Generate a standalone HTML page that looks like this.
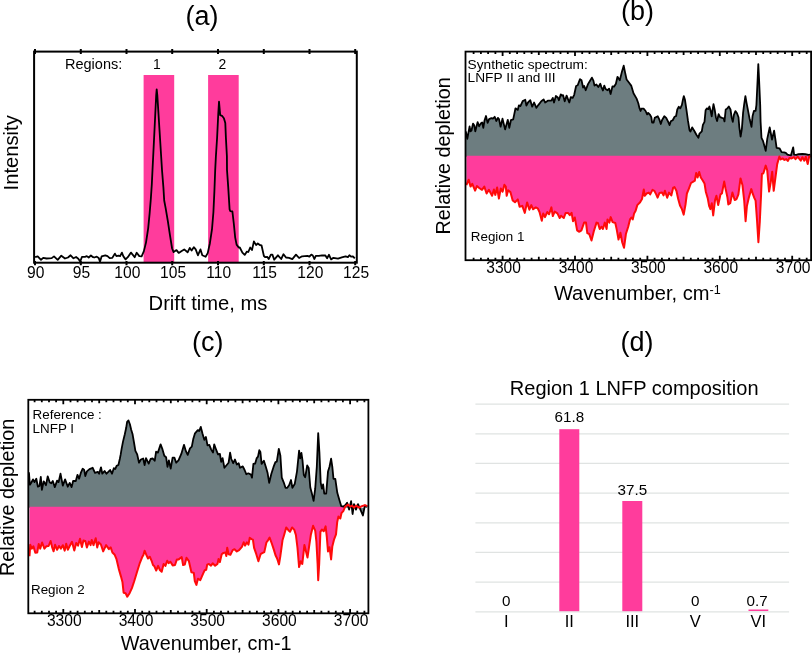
<!DOCTYPE html>
<html><head><meta charset="utf-8"><style>
html,body{margin:0;padding:0;background:#fff;overflow:hidden;width:812px;height:654px;}
svg{display:block;font-family:"Liberation Sans", sans-serif;will-change:transform;}
text{fill:#000;}
</style></head><body>
<svg width="812" height="654" viewBox="0 0 812 654">
<text x="202.0" y="24.9" font-size="27" text-anchor="middle" >(a)</text>
<text x="637.5" y="20.0" font-size="27" text-anchor="middle" >(b)</text>
<text x="207.7" y="351.3" font-size="27" text-anchor="middle" >(c)</text>
<text x="637.0" y="351.3" font-size="27" text-anchor="middle" >(d)</text>
<rect x="143.6" y="75" width="30.6" height="187.7" fill="#FF3C9C"/>
<rect x="208.1" y="75" width="30.6" height="187.7" fill="#FF3C9C"/>
<polyline points="35.1,257.2 37.7,256.4 41.0,259.8 43.2,257.9 46.6,258.5 51.7,258.1 54.0,256.4 57.7,259.8 61.3,255.7 65.0,258.5 68.0,257.5 70.6,255.3 73.5,258.3 76.1,257.0 78.3,258.7 80.2,261.6 82.0,256.8 85.0,256.8 86.8,256.1 88.7,257.5 90.9,255.5 93.1,257.2 94.2,257.5 96.8,256.7 98.7,257.9 100.0,261.8 101.6,256.4 105.3,255.3 107.5,256.1 109.7,258.1 112.3,257.9 114.9,253.6 116.4,256.1 118.6,255.7 120.1,256.1 121.9,252.6 123.4,256.4 125.6,259.4 127.8,257.2 131.0,252.6 134.7,257.2 136.7,252.7 139.3,256.1 141.6,256.4 143.8,251.4 146.0,242.6 148.2,228.1 149.6,213.6 150.8,199.1 151.8,184.5 152.5,170.0 154.5,130.0 156.2,95.0 156.7,89.4 157.3,95.0 159.5,130.0 162.0,170.0 163.4,187.4 164.2,200.5 165.6,207.8 167.8,220.9 170.0,235.4 172.1,248.5 173.6,252.1 176.5,250.1 178.7,252.9 181.7,250.9 184.2,249.4 187.6,252.3 189.8,247.9 191.6,250.5 193.8,247.2 195.7,249.4 197.9,255.3 200.5,249.4 202.3,255.3 205.6,256.8 207.7,253.1 209.9,243.2 212.0,229.2 213.4,212.3 214.4,191.1 215.2,170.0 215.9,156.2 217.1,137.8 218.3,113.3 219.0,101.7 220.2,115.2 222.0,115.8 223.9,118.2 225.3,123.1 225.9,137.8 226.9,156.2 227.0,170.0 228.2,186.9 229.6,209.4 230.3,211.1 232.4,211.5 233.8,223.5 235.2,237.6 236.6,244.6 238.7,247.5 239.8,247.5 242.4,252.7 244.7,254.9 246.9,251.6 248.3,252.0 250.2,247.5 252.0,250.1 253.9,241.4 256.1,245.1 257.8,243.5 259.8,245.0 261.5,245.3 263.9,256.0 265.3,257.2 267.2,256.8 268.7,259.1 270.9,254.6 272.4,254.6 274.2,259.7 277.9,255.3 281.2,259.0 283.5,254.2 286.0,257.5 289.0,257.9 292.3,259.1 296.0,254.6 299.1,258.0 302.1,256.3 307.5,255.9 309.4,256.7 311.3,254.6 312.8,255.5 314.3,259.0 315.8,255.9 318.9,255.9 322.0,255.4 325.4,255.5 327.1,258.2 329.0,254.8 331.1,259.4 333.4,257.8 338.0,258.6 341.8,257.4 345.6,256.3 347.9,257.1 349.4,255.2 351.0,256.7 352.9,256.3 354.8,258.4" fill="none" stroke="#000" stroke-width="1.8" stroke-linejoin="round"/>
<rect x="34.1" y="51.6" width="322.7" height="211.1" fill="none" stroke="#000" stroke-width="2"/>
<path d="M35.0,49.0V53.9M35.0,260.9V265.2M80.8,49.0V53.9M80.8,260.9V265.2M126.5,49.0V53.9M126.5,260.9V265.2M172.2,49.0V53.9M172.2,260.9V265.2M218.0,49.0V53.9M218.0,260.9V265.2M263.8,49.0V53.9M263.8,260.9V265.2M309.5,49.0V53.9M309.5,260.9V265.2M355.2,49.0V53.9M355.2,260.9V265.2" stroke="#000" stroke-width="2"/>
<text x="35.8" y="278.2" font-size="15.6" text-anchor="middle" >90</text>
<text x="81.5" y="278.2" font-size="15.6" text-anchor="middle" >95</text>
<text x="127.3" y="278.2" font-size="15.6" text-anchor="middle" >100</text>
<text x="173.1" y="278.2" font-size="15.6" text-anchor="middle" >105</text>
<text x="218.8" y="278.2" font-size="15.6" text-anchor="middle" >110</text>
<text x="264.6" y="278.2" font-size="15.6" text-anchor="middle" >115</text>
<text x="310.3" y="278.2" font-size="15.6" text-anchor="middle" >120</text>
<text x="356.1" y="278.2" font-size="15.6" text-anchor="middle" >125</text>
<text x="65.0" y="68.8" font-size="14.5" text-anchor="start" >Regions:</text>
<text x="156.9" y="68.8" font-size="13.9" text-anchor="middle" >1</text>
<text x="222.3" y="68.8" font-size="13.9" text-anchor="middle" >2</text>
<text x="208.0" y="309.5" font-size="20.2" text-anchor="middle" >Drift time, ms</text>
<text transform="translate(18.0,152.8) rotate(-90)" font-size="20.2" text-anchor="middle">Intensity</text>
<polygon points="465.8,156.8 465.8,131.3 467.3,138.9 468.4,132.8 469.6,126.3 470.5,131.3 471.5,130.5 473.0,123.6 474.2,125.2 475.3,131.3 477.6,122.1 479.1,126.3 480.7,123.6 482.2,122.5 483.3,127.8 484.5,120.6 486.0,116.0 487.6,122.9 489.1,119.1 491.4,118.1 492.9,118.7 494.7,116.8 496.3,121.0 497.9,117.9 499.0,119.1 500.6,126.7 502.5,118.7 505.1,129.4 507.8,119.8 509.3,127.8 510.9,120.2 513.2,119.4 515.5,108.3 517.8,109.9 518.9,105.3 520.4,106.1 522.7,101.1 525.3,99.8 526.4,105.5 528.0,102.5 530.3,100.2 532.2,106.7 534.1,102.5 536.4,107.8 538.3,105.1 541.3,101.3 543.6,99.4 545.2,102.5 548.2,100.6 551.3,100.6 552.8,97.9 554.0,102.5 555.9,96.0 557.8,97.5 558.9,100.2 560.8,94.4 562.0,95.6 563.1,95.2 564.7,101.3 566.6,95.6 569.3,102.5 570.8,97.1 572.7,97.9 574.2,94.8 576.1,86.0 577.7,85.3 580.0,79.1 581.5,80.3 583.1,87.5 584.2,86.0 585.7,90.2 588.0,84.1 589.9,81.0 591.9,77.6 593.4,80.6 594.5,85.6 596.4,84.4 598.3,87.1 600.3,83.7 601.4,87.1 602.9,90.5 604.3,85.6 605.6,89.0 607.5,90.2 609.1,88.6 610.6,94.0 612.5,86.3 614.0,86.7 615.9,83.7 617.5,76.8 619.8,80.2 621.7,72.6 623.7,65.7 625.1,72.6 626.6,79.5 628.9,82.5 631.2,85.6 633.5,93.2 636.6,98.6 638.3,103.3 639.4,107.9 640.6,111.0 641.4,108.7 643.6,108.7 645.6,111.0 647.1,114.4 648.2,112.9 650.1,114.8 651.3,117.1 652.1,122.5 653.6,122.5 654.7,117.9 657.8,116.3 659.3,119.4 660.8,124.0 662.0,120.2 664.3,116.3 666.2,117.9 668.1,121.7 669.6,125.1 670.8,121.3 672.7,120.2 674.6,116.7 676.1,116.0 677.3,109.5 678.8,106.8 680.3,108.3 681.9,104.9 682.8,100.3 683.8,96.1 684.9,99.5 686.5,110.2 688.0,120.9 689.5,130.1 690.4,131.6 692.2,127.4 694.5,131.3 696.4,134.8 698.4,137.8 699.5,133.6 701.8,131.3 702.9,124.8 704.5,121.8 705.6,110.3 706.8,108.4 708.3,109.1 709.4,106.5 710.6,110.7 711.7,116.4 712.5,110.3 713.5,104.2 714.8,110.3 715.9,117.2 717.1,121.0 718.6,114.1 720.1,117.2 722.1,117.9 723.6,118.3 724.5,121.4 725.7,109.5 727.0,108.8 728.8,106.5 730.5,109.5 731.6,117.2 732.8,121.8 733.9,114.9 735.4,111.1 737.0,113.3 738.5,117.2 739.3,127.1 740.6,136.7 741.9,128.6 743.1,112.6 744.1,104.9 745.4,96.1 746.5,102.6 748.0,110.3 749.7,119.3 751.5,126.9 752.6,115.9 753.9,110.9 755.6,110.9 756.4,105.0 757.6,80.0 758.3,64.1 759.1,80.0 760.2,105.0 760.6,121.8 761.5,137.8 763.1,141.2 765.7,150.8 767.3,138.6 769.7,127.5 772.0,139.5 774.1,130.7 775.3,138.6 776.6,147.9 779.5,148.3 781.6,152.1 784.0,152.3 785.8,152.9 787.5,154.6 790.9,155.5 793.2,147.3 794.1,154.6 796.3,154.9 798.5,154.2 802.4,153.8 805.4,154.2 808.5,154.9 810.5,154.6 810.5,156.8" fill="#6D7D80"/>
<polygon points="466.4,155.8 466.4,185.2 468.7,179.7 470.5,186.6 472.3,183.9 475.1,190.7 476.9,186.1 479.2,188.0 482.0,189.8 484.3,186.6 486.6,193.5 488.9,189.8 492.1,195.8 493.9,189.4 495.3,194.9 497.1,187.5 498.9,198.5 500.8,188.4 502.6,191.7 504.4,184.8 505.8,186.6 506.7,195.8 508.1,190.3 510.4,192.1 512.7,200.4 515.0,202.2 517.8,199.4 519.6,206.8 522.3,205.9 524.8,212.9 527.1,202.4 529.4,209.7 531.3,205.1 533.1,209.3 535.8,207.4 537.7,208.3 539.5,212.0 541.8,220.7 543.2,213.4 545.0,217.1 547.3,212.0 549.1,214.3 551.4,207.4 552.8,216.1 554.7,211.6 557.4,213.4 559.7,218.0 561.0,215.7 563.8,218.0 565.7,212.9 568.0,212.9 569.8,215.2 571.6,212.9 573.0,221.2 574.8,217.5 577.1,230.4 579.0,231.7 580.0,231.3 581.4,230.4 584.1,222.6 586.0,222.6 587.3,233.1 589.2,234.0 591.5,240.5 593.8,231.3 596.5,222.6 597.9,223.0 599.7,229.0 601.6,226.7 602.9,229.0 604.8,222.6 606.6,229.0 607.5,219.4 609.4,222.6 610.7,217.1 612.6,222.1 615.3,223.0 616.7,229.4 618.5,239.5 620.4,232.7 622.2,242.3 624.0,247.8 625.9,234.0 628.2,226.7 630.0,219.4 631.4,217.5 632.8,219.4 634.1,213.4 635.5,211.1 637.3,205.1 640.1,202.2 642.0,199.0 643.8,189.4 644.7,195.8 646.6,193.5 648.8,192.6 650.2,194.4 652.5,189.9 654.3,190.8 656.2,194.4 657.6,197.7 659.4,193.1 662.1,192.6 663.5,195.4 664.9,190.8 667.2,197.7 669.0,192.6 671.3,195.4 673.2,187.6 674.5,187.1 676.4,190.8 678.2,199.0 680.0,205.5 681.9,209.1 683.7,214.6 685.5,204.5 686.9,193.5 688.8,188.9 691.0,183.0 693.3,181.6 694.8,180.7 696.2,172.9 697.6,177.5 699.2,172.0 700.8,177.5 702.6,180.2 704.5,183.4 705.8,191.7 707.7,198.1 709.1,205.9 710.4,209.1 711.8,203.2 713.2,215.5 715.0,200.4 716.4,195.8 718.2,205.0 720.5,194.4 721.9,193.5 724.2,181.6 725.6,188.9 727.4,197.2 728.3,204.5 730.2,203.2 732.4,192.6 734.7,200.0 736.6,199.0 738.4,194.4 740.5,178.4 742.5,185.3 744.2,200.6 745.6,221.2 746.9,206.1 748.8,197.8 751.3,189.1 752.9,194.2 754.3,197.8 755.6,200.6 757.0,219.9 758.4,242.3 759.8,221.7 761.1,194.2 761.9,174.0 763.4,173.3 765.7,165.6 767.2,170.2 769.1,191.6 770.7,182.4 772.2,171.7 773.7,190.8 775.2,179.4 777.2,164.1 778.3,160.3 779.4,156.5 780.6,159.5 782.5,158.4 784.4,159.9 786.3,159.1 787.8,161.0 789.4,158.0 791.7,158.4 794.0,157.2 795.5,159.1 797.8,156.8 800.8,160.7 802.4,157.2 804.3,160.7 805.8,156.8 807.7,164.1 809.2,156.5 810.5,157.0 810.5,155.8" fill="#FF3C9C"/>
<polyline points="465.8,131.3 467.3,138.9 468.4,132.8 469.6,126.3 470.5,131.3 471.5,130.5 473.0,123.6 474.2,125.2 475.3,131.3 477.6,122.1 479.1,126.3 480.7,123.6 482.2,122.5 483.3,127.8 484.5,120.6 486.0,116.0 487.6,122.9 489.1,119.1 491.4,118.1 492.9,118.7 494.7,116.8 496.3,121.0 497.9,117.9 499.0,119.1 500.6,126.7 502.5,118.7 505.1,129.4 507.8,119.8 509.3,127.8 510.9,120.2 513.2,119.4 515.5,108.3 517.8,109.9 518.9,105.3 520.4,106.1 522.7,101.1 525.3,99.8 526.4,105.5 528.0,102.5 530.3,100.2 532.2,106.7 534.1,102.5 536.4,107.8 538.3,105.1 541.3,101.3 543.6,99.4 545.2,102.5 548.2,100.6 551.3,100.6 552.8,97.9 554.0,102.5 555.9,96.0 557.8,97.5 558.9,100.2 560.8,94.4 562.0,95.6 563.1,95.2 564.7,101.3 566.6,95.6 569.3,102.5 570.8,97.1 572.7,97.9 574.2,94.8 576.1,86.0 577.7,85.3 580.0,79.1 581.5,80.3 583.1,87.5 584.2,86.0 585.7,90.2 588.0,84.1 589.9,81.0 591.9,77.6 593.4,80.6 594.5,85.6 596.4,84.4 598.3,87.1 600.3,83.7 601.4,87.1 602.9,90.5 604.3,85.6 605.6,89.0 607.5,90.2 609.1,88.6 610.6,94.0 612.5,86.3 614.0,86.7 615.9,83.7 617.5,76.8 619.8,80.2 621.7,72.6 623.7,65.7 625.1,72.6 626.6,79.5 628.9,82.5 631.2,85.6 633.5,93.2 636.6,98.6 638.3,103.3 639.4,107.9 640.6,111.0 641.4,108.7 643.6,108.7 645.6,111.0 647.1,114.4 648.2,112.9 650.1,114.8 651.3,117.1 652.1,122.5 653.6,122.5 654.7,117.9 657.8,116.3 659.3,119.4 660.8,124.0 662.0,120.2 664.3,116.3 666.2,117.9 668.1,121.7 669.6,125.1 670.8,121.3 672.7,120.2 674.6,116.7 676.1,116.0 677.3,109.5 678.8,106.8 680.3,108.3 681.9,104.9 682.8,100.3 683.8,96.1 684.9,99.5 686.5,110.2 688.0,120.9 689.5,130.1 690.4,131.6 692.2,127.4 694.5,131.3 696.4,134.8 698.4,137.8 699.5,133.6 701.8,131.3 702.9,124.8 704.5,121.8 705.6,110.3 706.8,108.4 708.3,109.1 709.4,106.5 710.6,110.7 711.7,116.4 712.5,110.3 713.5,104.2 714.8,110.3 715.9,117.2 717.1,121.0 718.6,114.1 720.1,117.2 722.1,117.9 723.6,118.3 724.5,121.4 725.7,109.5 727.0,108.8 728.8,106.5 730.5,109.5 731.6,117.2 732.8,121.8 733.9,114.9 735.4,111.1 737.0,113.3 738.5,117.2 739.3,127.1 740.6,136.7 741.9,128.6 743.1,112.6 744.1,104.9 745.4,96.1 746.5,102.6 748.0,110.3 749.7,119.3 751.5,126.9 752.6,115.9 753.9,110.9 755.6,110.9 756.4,105.0 757.6,80.0 758.3,64.1 759.1,80.0 760.2,105.0 760.6,121.8 761.5,137.8 763.1,141.2 765.7,150.8 767.3,138.6 769.7,127.5 772.0,139.5 774.1,130.7 775.3,138.6 776.6,147.9 779.5,148.3 781.6,152.1 784.0,152.3 785.8,152.9 787.5,154.6 790.9,155.5 793.2,147.3 794.1,154.6 796.3,154.9 798.5,154.2 802.4,153.8 805.4,154.2 808.5,154.9 810.5,154.6" fill="none" stroke="#000" stroke-width="1.8" stroke-linejoin="round"/>
<polyline points="466.4,185.2 468.7,179.7 470.5,186.6 472.3,183.9 475.1,190.7 476.9,186.1 479.2,188.0 482.0,189.8 484.3,186.6 486.6,193.5 488.9,189.8 492.1,195.8 493.9,189.4 495.3,194.9 497.1,187.5 498.9,198.5 500.8,188.4 502.6,191.7 504.4,184.8 505.8,186.6 506.7,195.8 508.1,190.3 510.4,192.1 512.7,200.4 515.0,202.2 517.8,199.4 519.6,206.8 522.3,205.9 524.8,212.9 527.1,202.4 529.4,209.7 531.3,205.1 533.1,209.3 535.8,207.4 537.7,208.3 539.5,212.0 541.8,220.7 543.2,213.4 545.0,217.1 547.3,212.0 549.1,214.3 551.4,207.4 552.8,216.1 554.7,211.6 557.4,213.4 559.7,218.0 561.0,215.7 563.8,218.0 565.7,212.9 568.0,212.9 569.8,215.2 571.6,212.9 573.0,221.2 574.8,217.5 577.1,230.4 579.0,231.7 580.0,231.3 581.4,230.4 584.1,222.6 586.0,222.6 587.3,233.1 589.2,234.0 591.5,240.5 593.8,231.3 596.5,222.6 597.9,223.0 599.7,229.0 601.6,226.7 602.9,229.0 604.8,222.6 606.6,229.0 607.5,219.4 609.4,222.6 610.7,217.1 612.6,222.1 615.3,223.0 616.7,229.4 618.5,239.5 620.4,232.7 622.2,242.3 624.0,247.8 625.9,234.0 628.2,226.7 630.0,219.4 631.4,217.5 632.8,219.4 634.1,213.4 635.5,211.1 637.3,205.1 640.1,202.2 642.0,199.0 643.8,189.4 644.7,195.8 646.6,193.5 648.8,192.6 650.2,194.4 652.5,189.9 654.3,190.8 656.2,194.4 657.6,197.7 659.4,193.1 662.1,192.6 663.5,195.4 664.9,190.8 667.2,197.7 669.0,192.6 671.3,195.4 673.2,187.6 674.5,187.1 676.4,190.8 678.2,199.0 680.0,205.5 681.9,209.1 683.7,214.6 685.5,204.5 686.9,193.5 688.8,188.9 691.0,183.0 693.3,181.6 694.8,180.7 696.2,172.9 697.6,177.5 699.2,172.0 700.8,177.5 702.6,180.2 704.5,183.4 705.8,191.7 707.7,198.1 709.1,205.9 710.4,209.1 711.8,203.2 713.2,215.5 715.0,200.4 716.4,195.8 718.2,205.0 720.5,194.4 721.9,193.5 724.2,181.6 725.6,188.9 727.4,197.2 728.3,204.5 730.2,203.2 732.4,192.6 734.7,200.0 736.6,199.0 738.4,194.4 740.5,178.4 742.5,185.3 744.2,200.6 745.6,221.2 746.9,206.1 748.8,197.8 751.3,189.1 752.9,194.2 754.3,197.8 755.6,200.6 757.0,219.9 758.4,242.3 759.8,221.7 761.1,194.2 761.9,174.0 763.4,173.3 765.7,165.6 767.2,170.2 769.1,191.6 770.7,182.4 772.2,171.7 773.7,190.8 775.2,179.4 777.2,164.1 778.3,160.3 779.4,156.5 780.6,159.5 782.5,158.4 784.4,159.9 786.3,159.1 787.8,161.0 789.4,158.0 791.7,158.4 794.0,157.2 795.5,159.1 797.8,156.8 800.8,160.7 802.4,157.2 804.3,160.7 805.8,156.8 807.7,164.1 809.2,156.5 810.5,157.0" fill="none" stroke="#FF0A0A" stroke-width="2.0" stroke-linejoin="round"/>
<rect x="465.5" y="51.6" width="345.6" height="208.6" fill="none" stroke="#000" stroke-width="1.8"/>
<path d="M473.6,51.6v2.5M473.6,260.2v-2.5M480.9,51.6v2.5M480.9,260.2v-2.5M488.1,51.6v2.5M488.1,260.2v-2.5M495.4,51.6v2.5M495.4,260.2v-2.5M502.6,51.6v4.4M502.6,260.2v-4.4M509.8,51.6v2.5M509.8,260.2v-2.5M517.1,51.6v2.5M517.1,260.2v-2.5M524.3,51.6v2.5M524.3,260.2v-2.5M531.6,51.6v2.5M531.6,260.2v-2.5M538.8,51.6v3.4M538.8,260.2v-3.4M546.0,51.6v2.5M546.0,260.2v-2.5M553.3,51.6v2.5M553.3,260.2v-2.5M560.5,51.6v2.5M560.5,260.2v-2.5M567.8,51.6v2.5M567.8,260.2v-2.5M575.0,51.6v4.4M575.0,260.2v-4.4M582.2,51.6v2.5M582.2,260.2v-2.5M589.5,51.6v2.5M589.5,260.2v-2.5M596.7,51.6v2.5M596.7,260.2v-2.5M604.0,51.6v2.5M604.0,260.2v-2.5M611.2,51.6v3.4M611.2,260.2v-3.4M618.4,51.6v2.5M618.4,260.2v-2.5M625.7,51.6v2.5M625.7,260.2v-2.5M632.9,51.6v2.5M632.9,260.2v-2.5M640.2,51.6v2.5M640.2,260.2v-2.5M647.4,51.6v4.4M647.4,260.2v-4.4M654.6,51.6v2.5M654.6,260.2v-2.5M661.9,51.6v2.5M661.9,260.2v-2.5M669.1,51.6v2.5M669.1,260.2v-2.5M676.4,51.6v2.5M676.4,260.2v-2.5M683.6,51.6v3.4M683.6,260.2v-3.4M690.8,51.6v2.5M690.8,260.2v-2.5M698.1,51.6v2.5M698.1,260.2v-2.5M705.3,51.6v2.5M705.3,260.2v-2.5M712.6,51.6v2.5M712.6,260.2v-2.5M719.8,51.6v4.4M719.8,260.2v-4.4M727.0,51.6v2.5M727.0,260.2v-2.5M734.3,51.6v2.5M734.3,260.2v-2.5M741.5,51.6v2.5M741.5,260.2v-2.5M748.8,51.6v2.5M748.8,260.2v-2.5M756.0,51.6v3.4M756.0,260.2v-3.4M763.2,51.6v2.5M763.2,260.2v-2.5M770.5,51.6v2.5M770.5,260.2v-2.5M777.7,51.6v2.5M777.7,260.2v-2.5M785.0,51.6v2.5M785.0,260.2v-2.5M792.2,51.6v4.4M792.2,260.2v-4.4M799.4,51.6v2.5M799.4,260.2v-2.5M806.7,51.6v2.5M806.7,260.2v-2.5" stroke="#000" stroke-width="1.8"/>
<text x="503.6" y="273.4" font-size="15.6" text-anchor="middle" >3300</text>
<text x="576.0" y="273.4" font-size="15.6" text-anchor="middle" >3400</text>
<text x="648.4" y="273.4" font-size="15.6" text-anchor="middle" >3500</text>
<text x="720.8" y="273.4" font-size="15.6" text-anchor="middle" >3600</text>
<text x="793.2" y="273.4" font-size="15.6" text-anchor="middle" >3700</text>
<polygon points="28.9,507.8 28.9,472.2 29.9,484.8 31.4,482.5 33.0,479.4 34.5,482.1 36.3,478.7 37.9,486.7 39.5,485.9 40.8,476.8 41.9,489.8 43.7,481.3 46.0,485.2 47.7,476.4 49.8,482.5 51.3,483.3 52.8,481.0 54.8,487.1 57.1,480.6 58.6,482.1 60.5,473.7 62.8,485.6 65.1,479.4 67.8,486.7 69.7,482.9 71.6,487.1 73.1,481.0 75.8,481.0 77.5,474.8 79.1,478.7 80.8,472.9 82.7,468.7 84.2,469.9 85.3,476.0 86.9,471.4 89.5,469.1 92.7,467.8 95.0,472.8 97.8,471.9 99.1,473.7 101.0,467.3 102.3,473.7 104.6,471.0 106.5,473.7 108.3,471.9 110.1,470.0 112.0,473.7 113.8,468.2 115.2,469.1 116.6,465.9 118.4,465.0 119.8,459.0 120.7,454.4 121.6,448.9 123.0,441.6 124.8,434.3 126.2,427.8 127.1,421.9 128.5,420.5 129.9,424.2 131.2,429.7 132.6,434.3 134.0,442.5 135.4,450.8 137.2,454.4 139.0,462.7 140.9,459.5 143.2,458.5 144.6,465.0 146.0,458.1 148.7,463.6 150.6,459.0 152.8,458.5 154.7,460.8 156.1,451.7 157.9,452.6 160.6,444.3 162.5,449.4 164.3,455.8 166.1,457.2 167.5,466.8 168.9,460.4 170.7,468.6 172.6,457.6 174.4,457.6 176.2,462.7 178.5,460.4 181.3,453.9 184.0,444.8 185.9,451.2 187.7,454.9 190.0,448.4 191.8,446.6 193.2,439.3 195.0,433.3 197.8,430.1 199.2,431.1 200.8,426.9 202.4,433.3 204.3,439.8 205.9,437.0 207.5,445.3 209.3,444.8 211.1,449.4 213.0,452.6 214.2,444.4 215.7,448.5 218.0,454.4 219.9,454.0 221.2,461.8 222.6,458.1 224.4,467.8 226.3,465.5 228.6,462.7 230.1,452.6 231.3,459.0 233.2,463.2 235.0,459.5 236.8,464.5 238.7,463.2 240.0,467.8 242.8,466.4 244.6,470.0 246.3,474.2 248.3,473.3 251.0,474.6 252.0,477.7 253.4,463.9 255.2,463.5 256.6,458.4 258.0,456.6 259.3,450.2 260.4,452.0 261.6,463.9 263.9,460.7 265.8,466.7 267.6,473.1 269.2,482.8 271.3,474.0 273.6,466.7 275.4,462.1 276.8,461.7 278.8,448.8 280.4,455.7 281.8,477.7 283.7,482.3 285.5,487.8 287.3,487.8 289.2,485.0 291.0,480.0 292.4,487.8 294.7,484.1 297.0,471.3 299.1,450.6 300.2,458.4 301.4,452.9 302.5,460.3 303.8,475.0 305.2,477.2 307.2,465.5 308.7,467.9 310.3,487.5 311.9,493.6 313.6,500.9 315.2,488.7 316.8,466.7 318.2,433.1 319.4,452.0 320.7,482.6 321.9,488.7 323.1,484.4 324.3,493.6 326.2,493.6 328.0,471.6 329.5,466.7 331.1,458.7 332.3,466.7 333.5,478.9 335.3,478.9 337.3,492.8 339.3,499.7 341.2,506.1 343.5,506.5 345.5,505.0 347.1,502.7 349.1,509.6 351.1,501.2 352.6,514.0 354.0,504.1 356.0,509.6 358.0,504.1 360.4,509.6 362.9,515.5 364.9,505.6 367.3,506.6 367.3,507.8" fill="#6D7D80"/>
<polygon points="29.5,506.8 29.5,556.3 30.3,544.8 31.8,548.6 33.4,546.3 35.3,552.8 37.2,552.5 38.7,544.1 40.2,548.6 42.1,542.5 44.4,548.6 46.3,546.3 48.6,546.0 50.6,541.0 52.1,547.1 53.6,551.3 55.1,544.8 57.1,549.8 59.0,546.0 60.9,548.6 62.8,545.2 64.7,550.6 66.2,543.7 67.8,549.8 69.7,546.0 72.0,541.8 74.3,550.6 76.2,542.9 78.1,545.6 80.0,538.7 81.9,547.1 83.4,540.6 85.3,541.0 86.9,547.5 88.9,541.6 90.6,545.1 91.7,539.9 93.5,545.1 95.7,538.2 97.2,547.4 98.6,542.2 100.9,544.5 103.2,551.4 106.1,545.1 108.9,549.1 110.7,547.4 112.4,552.5 114.7,554.8 116.4,558.8 118.7,568.6 121.0,576.6 122.5,582.3 123.6,592.7 125.6,593.2 127.3,596.7 129.6,593.2 131.9,588.1 134.2,581.2 137.0,572.0 139.9,562.8 142.2,557.1 143.4,554.9 144.6,550.7 146.1,554.4 148.0,558.5 149.8,556.7 151.6,560.8 153.0,565.0 154.4,566.3 156.2,570.5 158.1,565.9 159.9,570.0 161.7,571.8 163.6,564.0 165.4,565.9 167.2,560.8 168.6,563.1 170.4,561.7 172.7,565.4 175.0,565.0 176.9,559.4 178.7,559.4 180.0,558.4 181.7,557.1 183.1,565.0 184.8,564.6 186.5,557.8 188.9,561.2 191.4,572.2 193.8,572.9 194.8,581.2 196.4,584.9 197.9,578.7 200.3,580.1 203.1,573.6 204.7,570.3 206.2,569.8 207.2,564.6 208.9,563.9 211.0,565.7 212.7,563.3 215.1,565.7 217.5,563.9 218.5,559.1 219.9,562.1 221.7,554.3 223.5,552.9 225.4,552.4 226.3,556.1 227.2,547.8 228.6,554.3 230.4,554.7 232.7,550.1 234.5,549.2 236.8,551.5 239.1,550.1 241.9,546.9 243.7,542.3 245.1,545.6 246.9,542.3 248.5,544.6 249.7,537.8 251.5,539.1 252.9,539.6 254.1,547.8 256.3,554.2 258.4,561.2 260.6,554.2 262.2,553.2 264.3,552.1 266.4,542.5 268.0,540.3 269.6,537.6 271.8,543.5 273.9,549.9 275.5,555.3 277.1,558.5 279.0,564.4 280.3,556.4 282.5,540.3 284.1,535.0 286.2,527.5 288.4,530.2 290.0,531.8 292.1,527.5 294.2,529.6 295.9,535.0 297.5,547.8 299.1,567.1 300.7,561.2 302.3,563.9 304.4,545.1 306.0,551.5 307.5,557.6 309.1,546.6 310.9,534.4 313.1,525.8 315.2,530.7 316.4,541.7 317.6,563.7 318.2,580.2 319.2,563.7 320.4,531.9 321.9,529.5 323.7,531.3 325.6,526.4 326.8,536.8 328.0,551.5 329.5,547.2 331.1,559.4 332.3,546.6 334.1,539.3 336.0,534.4 337.2,522.1 338.4,516.6 340.3,518.5 341.5,513.0 343.3,511.1 345.2,506.6 348.1,504.6 350.1,506.6 352.1,505.6 354.0,507.6 356.0,505.6 359.0,507.6 361.9,506.1 364.9,505.1 367.3,506.1 367.3,506.8" fill="#FF3C9C"/>
<polyline points="28.9,472.2 29.9,484.8 31.4,482.5 33.0,479.4 34.5,482.1 36.3,478.7 37.9,486.7 39.5,485.9 40.8,476.8 41.9,489.8 43.7,481.3 46.0,485.2 47.7,476.4 49.8,482.5 51.3,483.3 52.8,481.0 54.8,487.1 57.1,480.6 58.6,482.1 60.5,473.7 62.8,485.6 65.1,479.4 67.8,486.7 69.7,482.9 71.6,487.1 73.1,481.0 75.8,481.0 77.5,474.8 79.1,478.7 80.8,472.9 82.7,468.7 84.2,469.9 85.3,476.0 86.9,471.4 89.5,469.1 92.7,467.8 95.0,472.8 97.8,471.9 99.1,473.7 101.0,467.3 102.3,473.7 104.6,471.0 106.5,473.7 108.3,471.9 110.1,470.0 112.0,473.7 113.8,468.2 115.2,469.1 116.6,465.9 118.4,465.0 119.8,459.0 120.7,454.4 121.6,448.9 123.0,441.6 124.8,434.3 126.2,427.8 127.1,421.9 128.5,420.5 129.9,424.2 131.2,429.7 132.6,434.3 134.0,442.5 135.4,450.8 137.2,454.4 139.0,462.7 140.9,459.5 143.2,458.5 144.6,465.0 146.0,458.1 148.7,463.6 150.6,459.0 152.8,458.5 154.7,460.8 156.1,451.7 157.9,452.6 160.6,444.3 162.5,449.4 164.3,455.8 166.1,457.2 167.5,466.8 168.9,460.4 170.7,468.6 172.6,457.6 174.4,457.6 176.2,462.7 178.5,460.4 181.3,453.9 184.0,444.8 185.9,451.2 187.7,454.9 190.0,448.4 191.8,446.6 193.2,439.3 195.0,433.3 197.8,430.1 199.2,431.1 200.8,426.9 202.4,433.3 204.3,439.8 205.9,437.0 207.5,445.3 209.3,444.8 211.1,449.4 213.0,452.6 214.2,444.4 215.7,448.5 218.0,454.4 219.9,454.0 221.2,461.8 222.6,458.1 224.4,467.8 226.3,465.5 228.6,462.7 230.1,452.6 231.3,459.0 233.2,463.2 235.0,459.5 236.8,464.5 238.7,463.2 240.0,467.8 242.8,466.4 244.6,470.0 246.3,474.2 248.3,473.3 251.0,474.6 252.0,477.7 253.4,463.9 255.2,463.5 256.6,458.4 258.0,456.6 259.3,450.2 260.4,452.0 261.6,463.9 263.9,460.7 265.8,466.7 267.6,473.1 269.2,482.8 271.3,474.0 273.6,466.7 275.4,462.1 276.8,461.7 278.8,448.8 280.4,455.7 281.8,477.7 283.7,482.3 285.5,487.8 287.3,487.8 289.2,485.0 291.0,480.0 292.4,487.8 294.7,484.1 297.0,471.3 299.1,450.6 300.2,458.4 301.4,452.9 302.5,460.3 303.8,475.0 305.2,477.2 307.2,465.5 308.7,467.9 310.3,487.5 311.9,493.6 313.6,500.9 315.2,488.7 316.8,466.7 318.2,433.1 319.4,452.0 320.7,482.6 321.9,488.7 323.1,484.4 324.3,493.6 326.2,493.6 328.0,471.6 329.5,466.7 331.1,458.7 332.3,466.7 333.5,478.9 335.3,478.9 337.3,492.8 339.3,499.7 341.2,506.1 343.5,506.5 345.5,505.0 347.1,502.7 349.1,509.6 351.1,501.2 352.6,514.0 354.0,504.1 356.0,509.6 358.0,504.1 360.4,509.6 362.9,515.5 364.9,505.6 367.3,506.6" fill="none" stroke="#000" stroke-width="1.8" stroke-linejoin="round"/>
<polyline points="29.5,556.3 30.3,544.8 31.8,548.6 33.4,546.3 35.3,552.8 37.2,552.5 38.7,544.1 40.2,548.6 42.1,542.5 44.4,548.6 46.3,546.3 48.6,546.0 50.6,541.0 52.1,547.1 53.6,551.3 55.1,544.8 57.1,549.8 59.0,546.0 60.9,548.6 62.8,545.2 64.7,550.6 66.2,543.7 67.8,549.8 69.7,546.0 72.0,541.8 74.3,550.6 76.2,542.9 78.1,545.6 80.0,538.7 81.9,547.1 83.4,540.6 85.3,541.0 86.9,547.5 88.9,541.6 90.6,545.1 91.7,539.9 93.5,545.1 95.7,538.2 97.2,547.4 98.6,542.2 100.9,544.5 103.2,551.4 106.1,545.1 108.9,549.1 110.7,547.4 112.4,552.5 114.7,554.8 116.4,558.8 118.7,568.6 121.0,576.6 122.5,582.3 123.6,592.7 125.6,593.2 127.3,596.7 129.6,593.2 131.9,588.1 134.2,581.2 137.0,572.0 139.9,562.8 142.2,557.1 143.4,554.9 144.6,550.7 146.1,554.4 148.0,558.5 149.8,556.7 151.6,560.8 153.0,565.0 154.4,566.3 156.2,570.5 158.1,565.9 159.9,570.0 161.7,571.8 163.6,564.0 165.4,565.9 167.2,560.8 168.6,563.1 170.4,561.7 172.7,565.4 175.0,565.0 176.9,559.4 178.7,559.4 180.0,558.4 181.7,557.1 183.1,565.0 184.8,564.6 186.5,557.8 188.9,561.2 191.4,572.2 193.8,572.9 194.8,581.2 196.4,584.9 197.9,578.7 200.3,580.1 203.1,573.6 204.7,570.3 206.2,569.8 207.2,564.6 208.9,563.9 211.0,565.7 212.7,563.3 215.1,565.7 217.5,563.9 218.5,559.1 219.9,562.1 221.7,554.3 223.5,552.9 225.4,552.4 226.3,556.1 227.2,547.8 228.6,554.3 230.4,554.7 232.7,550.1 234.5,549.2 236.8,551.5 239.1,550.1 241.9,546.9 243.7,542.3 245.1,545.6 246.9,542.3 248.5,544.6 249.7,537.8 251.5,539.1 252.9,539.6 254.1,547.8 256.3,554.2 258.4,561.2 260.6,554.2 262.2,553.2 264.3,552.1 266.4,542.5 268.0,540.3 269.6,537.6 271.8,543.5 273.9,549.9 275.5,555.3 277.1,558.5 279.0,564.4 280.3,556.4 282.5,540.3 284.1,535.0 286.2,527.5 288.4,530.2 290.0,531.8 292.1,527.5 294.2,529.6 295.9,535.0 297.5,547.8 299.1,567.1 300.7,561.2 302.3,563.9 304.4,545.1 306.0,551.5 307.5,557.6 309.1,546.6 310.9,534.4 313.1,525.8 315.2,530.7 316.4,541.7 317.6,563.7 318.2,580.2 319.2,563.7 320.4,531.9 321.9,529.5 323.7,531.3 325.6,526.4 326.8,536.8 328.0,551.5 329.5,547.2 331.1,559.4 332.3,546.6 334.1,539.3 336.0,534.4 337.2,522.1 338.4,516.6 340.3,518.5 341.5,513.0 343.3,511.1 345.2,506.6 348.1,504.6 350.1,506.6 352.1,505.6 354.0,507.6 356.0,505.6 359.0,507.6 361.9,506.1 364.9,505.1 367.3,506.1" fill="none" stroke="#FF0A0A" stroke-width="2.0" stroke-linejoin="round"/>
<rect x="28.3" y="399.8" width="340.09999999999997" height="213.49999999999994" fill="none" stroke="#000" stroke-width="1.8"/>
<path d="M34.6,399.8v2.5M34.6,613.3v-2.5M41.8,399.8v2.5M41.8,613.3v-2.5M49.0,399.8v2.5M49.0,613.3v-2.5M56.1,399.8v2.5M56.1,613.3v-2.5M63.3,399.8v4.4M63.3,613.3v-4.4M70.5,399.8v2.5M70.5,613.3v-2.5M77.6,399.8v2.5M77.6,613.3v-2.5M84.8,399.8v2.5M84.8,613.3v-2.5M92.0,399.8v2.5M92.0,613.3v-2.5M99.2,399.8v3.4M99.2,613.3v-3.4M106.3,399.8v2.5M106.3,613.3v-2.5M113.5,399.8v2.5M113.5,613.3v-2.5M120.7,399.8v2.5M120.7,613.3v-2.5M127.8,399.8v2.5M127.8,613.3v-2.5M135.0,399.8v4.4M135.0,613.3v-4.4M142.2,399.8v2.5M142.2,613.3v-2.5M149.3,399.8v2.5M149.3,613.3v-2.5M156.5,399.8v2.5M156.5,613.3v-2.5M163.7,399.8v2.5M163.7,613.3v-2.5M170.8,399.8v3.4M170.8,613.3v-3.4M178.0,399.8v2.5M178.0,613.3v-2.5M185.2,399.8v2.5M185.2,613.3v-2.5M192.4,399.8v2.5M192.4,613.3v-2.5M199.5,399.8v2.5M199.5,613.3v-2.5M206.7,399.8v4.4M206.7,613.3v-4.4M213.9,399.8v2.5M213.9,613.3v-2.5M221.0,399.8v2.5M221.0,613.3v-2.5M228.2,399.8v2.5M228.2,613.3v-2.5M235.4,399.8v2.5M235.4,613.3v-2.5M242.6,399.8v3.4M242.6,613.3v-3.4M249.7,399.8v2.5M249.7,613.3v-2.5M256.9,399.8v2.5M256.9,613.3v-2.5M264.1,399.8v2.5M264.1,613.3v-2.5M271.2,399.8v2.5M271.2,613.3v-2.5M278.4,399.8v4.4M278.4,613.3v-4.4M285.6,399.8v2.5M285.6,613.3v-2.5M292.7,399.8v2.5M292.7,613.3v-2.5M299.9,399.8v2.5M299.9,613.3v-2.5M307.1,399.8v2.5M307.1,613.3v-2.5M314.2,399.8v3.4M314.2,613.3v-3.4M321.4,399.8v2.5M321.4,613.3v-2.5M328.6,399.8v2.5M328.6,613.3v-2.5M335.8,399.8v2.5M335.8,613.3v-2.5M342.9,399.8v2.5M342.9,613.3v-2.5M350.1,399.8v4.4M350.1,613.3v-4.4M357.3,399.8v2.5M357.3,613.3v-2.5M364.4,399.8v2.5M364.4,613.3v-2.5" stroke="#000" stroke-width="1.8"/>
<text x="64.3" y="626.4" font-size="15.6" text-anchor="middle" >3300</text>
<text x="136.0" y="626.4" font-size="15.6" text-anchor="middle" >3400</text>
<text x="207.7" y="626.4" font-size="15.6" text-anchor="middle" >3500</text>
<text x="279.4" y="626.4" font-size="15.6" text-anchor="middle" >3600</text>
<text x="351.1" y="626.4" font-size="15.6" text-anchor="middle" >3700</text>
<text x="467.6" y="68.6" font-size="13.7" text-anchor="start" >Synthetic spectrum:</text>
<text x="467.6" y="82.4" font-size="13.7" text-anchor="start" >LNFP II and III</text>
<text x="470.8" y="240.9" font-size="13.4" text-anchor="start" >Region 1</text>
<text transform="translate(450.3,155.8) rotate(-90)" font-size="19.8" text-anchor="middle">Relative depletion</text>
<text x="553.9" y="299.6" font-size="20.1" text-anchor="start" >Wavenumber, cm<tspan font-size="12.6" dy="-5.9">-1</tspan></text>
<text x="32.6" y="419.3" font-size="13.4" text-anchor="start" >Reference :</text>
<text x="32.6" y="432.6" font-size="13.4" text-anchor="start" >LNFP I</text>
<text x="31.0" y="593.9" font-size="13.4" text-anchor="start" >Region 2</text>
<text transform="translate(14.1,497.3) rotate(-90)" font-size="19.8" text-anchor="middle">Relative depletion</text>
<text x="206.2" y="650.0" font-size="19.8" text-anchor="middle" >Wavenumber, cm-1</text>
<text x="634.2" y="394.8" font-size="20.0" text-anchor="middle" >Region 1 LNFP composition</text>
<path d="M475.4,404.10H789.1M475.4,433.77H789.1M475.4,463.44H789.1M475.4,493.11H789.1M475.4,522.78H789.1M475.4,552.45H789.1M475.4,582.12H789.1M475.4,611.79H789.1" stroke="#E0E3E2" stroke-width="1.25"/>
<text x="506.3" y="606.2" font-size="15.2" text-anchor="middle" >0</text>
<text x="506.3" y="626.7" font-size="16.5" text-anchor="middle" >I</text>
<rect x="559.3" y="429.2" width="20" height="182.0" fill="#FF3C9C"/>
<text x="569.3" y="422.4" font-size="15.2" text-anchor="middle" >61.8</text>
<text x="569.3" y="626.7" font-size="16.5" text-anchor="middle" >II</text>
<rect x="622.3" y="501.0" width="20" height="110.2" fill="#FF3C9C"/>
<text x="632.3" y="494.7" font-size="15.2" text-anchor="middle" >37.5</text>
<text x="632.3" y="626.7" font-size="16.5" text-anchor="middle" >III</text>
<text x="695.3" y="606.2" font-size="15.2" text-anchor="middle" >0</text>
<text x="695.3" y="626.7" font-size="16.5" text-anchor="middle" >V</text>
<rect x="748.5" y="609.5" width="19.8" height="1.5" fill="#FF3C9C"/>
<text x="757.0999999999999" y="606.0" font-size="15.2" text-anchor="middle" >0.7</text>
<text x="758.3" y="626.7" font-size="16.5" text-anchor="middle" >VI</text>
</svg>
</body></html>
